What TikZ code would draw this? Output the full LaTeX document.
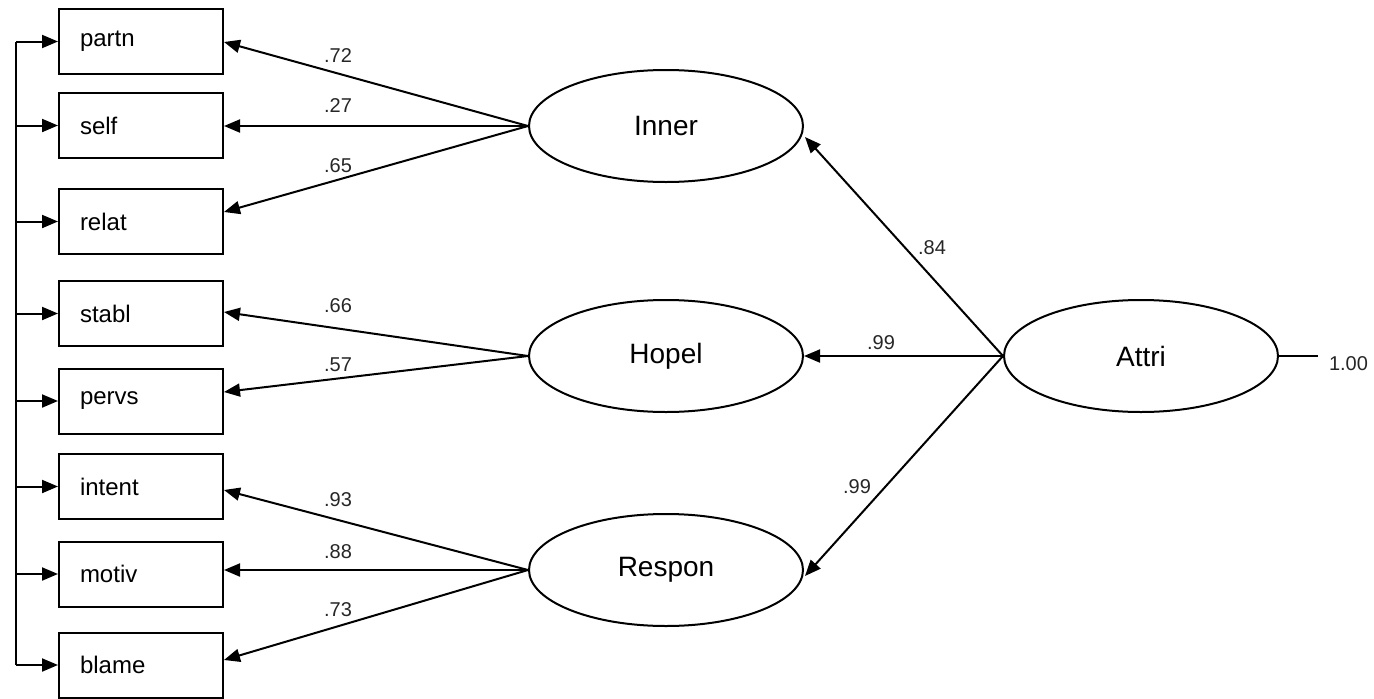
\documentclass[tikz,border=0pt]{standalone}
\usepackage{fontspec}
\setmainfont{Liberation Sans}
\usetikzlibrary{shapes.geometric,arrows.meta,calc}
\begin{document}
\begin{tikzpicture}[x=1pt,y=-1pt,line width=2pt,
  arr/.style={-{Triangle[length=16pt,width=13pt]}},
  obs/.style={draw,rectangle,minimum height=65pt,text width=122pt,inner xsep=21pt,inner ysep=0pt,align=left,font=\fontsize{24}{26}\selectfont,line width=2pt},
  lat/.style={draw,ellipse,minimum width=274pt,minimum height=112pt,inner sep=0pt,font=\fontsize{28}{30}\selectfont,line width=2pt},
  lab/.style={font=\fontsize{20}{22}\selectfont,text=black!85,inner sep=0pt}]
\useasboundingbox (0,0) rectangle (1374,699);
% observed variables
\node[obs] (partn)  at (141,41.5)  {partn};
\node[obs] (self)   at (141,125.5) {self};
\node[obs] (relat)  at (141,221.5) {relat};
\node[obs] (stabl)  at (141,313.5) {stabl};
\node[obs] (pervs)  at (141,401)   {pervs};
\node[obs] (intent) at (141,486.5) {intent};
\node[obs] (motiv)  at (141,574)   {motiv};
\node[obs] (blame)  at (141,665)   {blame};
% latent variables
\node[lat] (inner)  at (666,126) {Inner};
\node[lat] (hopel)  at (666,356) {Hopel};
\node[lat] (respon) at (666,570) {Respon};
\node[lat] (attri)  at (1141,356) {Attri};
% left spine
\coordinate (spine) at (16,0);
\draw (partn.west -| spine) -- (blame.west -| spine);
\foreach \b in {partn,self,relat,stabl,pervs,intent,motiv,blame}
  \draw[arr] (\b.west -| spine) -- (\b.west);
% loadings
\draw[arr] (inner.west) -- ($(partn.east)+(0,0.5)$);
\draw[arr] (inner.west) -- (self.east |- inner.west);
\draw[arr] (inner.west) -- ($(relat.east)+(0,-9.5)$);
\draw[arr] (hopel.west) -- ($(stabl.east)+(0,-1.5)$);
\draw[arr] (hopel.west) -- ($(pervs.east)+(0,-9)$);
\draw[arr] (respon.west) -- ($(intent.east)+(0,3.5)$);
\draw[arr] (respon.west) -- (motiv.east |- respon.west);
\draw[arr] (respon.west) -- ($(blame.east)+(0,-5)$);
\draw[arr] (attri.west) -- ($(inner.east)+(1,11)$);
\draw[arr] (attri.west) -- (hopel.east);
\draw[arr] (attri.west) -- ($(respon.east)+(1,6)$);
\coordinate (err) at (1318,356);
\draw (attri.east) -- (err);
% labels
\node[lab] (l1) at (338,56)  {.72};
\node[lab] (l2) at (338,106) {.27};
\node[lab] (l3) at (338,166) {.65};
\node[lab] (l4) at (338,306) {.66};
\node[lab] (l5) at (338,365) {.57};
\node[lab] (l6) at (338,500) {.93};
\node[lab] (l7) at (338,552) {.88};
\node[lab] (l8) at (338,610) {.73};
\node[lab] (l9) at (932,248) {.84};
\node[lab] (l10) at (881,343) {.99};
\node[lab] (l11) at (857,487) {.99};
\node[lab,anchor=west] (l12) at (1328,364) {1.00};
\end{tikzpicture}
\end{document}
